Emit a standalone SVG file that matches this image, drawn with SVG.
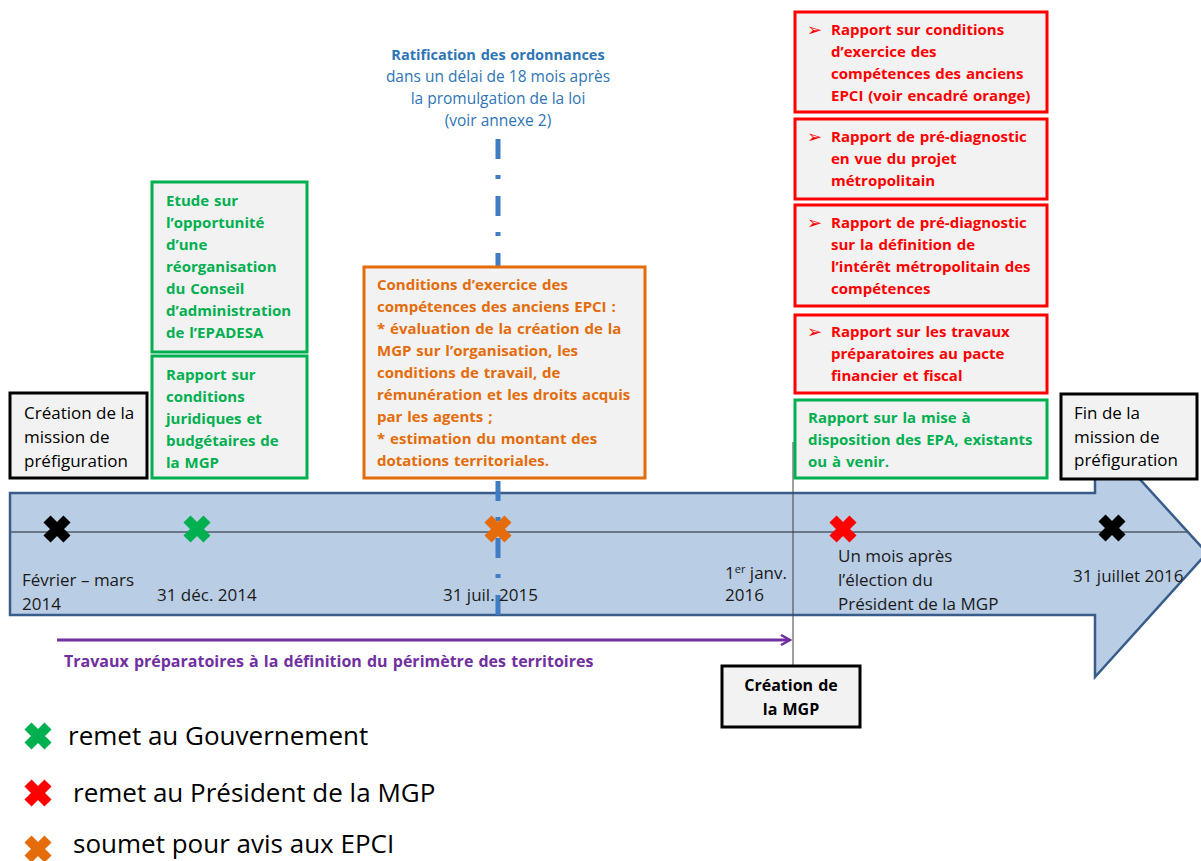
<svg xmlns="http://www.w3.org/2000/svg" width="1201" height="861" viewBox="0 0 1201 861">
<style>
  text { font-family: "Open Sans", "Liberation Sans", sans-serif; }
  .box { fill: #F2F2F2; stroke-width: 3; }
  .bk { stroke: #000000; }
  .gr { stroke: #00B050; }
  .rd { stroke: #FF0000; }
  .or { stroke: #E46C0A; }
  .b { font-weight: bold; font-size: 15px; word-spacing: 1px; }
  .tg { fill: #00B050; }
  .tr { fill: #FF0000; }
  .to { fill: #E46C0A; }
  .tb { fill: #000000; font-size: 17px; }
  .tl { fill: #1A1A1A; font-size: 17px; }
  .bul { font-family: "DejaVu Sans", sans-serif; fill: #FF0000; font-size: 18px; }
  .leg { fill: #000000; font-size: 26px; }
  .blue { fill: #2E75B6; font-size: 15.5px; }
</style>
<defs>
  <path id="cross" d="M-10,-10 L10,10 M10,-10 L-10,10" stroke-width="10" fill="none"/>
  <marker id="parrow" markerWidth="12" markerHeight="12" refX="10" refY="6" orient="auto" markerUnits="userSpaceOnUse">
    <path d="M1,1 L10,6 L1,11" fill="none" stroke="#7030A0" stroke-width="2.5"/>
  </marker>
</defs>

<g id="timeline">
  <path d="M10,493 L1095,493 L1095,430 L1207,553 L1095,677 L1095,615 L10,615 Z" fill="#B9CDE5" stroke="#385D8A" stroke-width="2.5"/>
</g>

<g id="connectors">
  <line x1="10" y1="532" x2="1188" y2="532" stroke="#505A66" stroke-width="1.5"/>
  <line x1="793" y1="442" x2="793" y2="666" stroke="#404040" stroke-width="1"/>
  <line x1="498" y1="139" x2="498" y2="625" stroke="#3F7CC4" stroke-width="5" stroke-dasharray="20 16 4 17"/>
  <line x1="57" y1="640" x2="790" y2="640" stroke="#7030A0" stroke-width="3" marker-end="url(#parrow)"/>
</g>

<g id="markers">
  <use href="#cross" x="57" y="529" stroke="#000000"/>
  <use href="#cross" x="197" y="529" stroke="#00B050"/>
  <use href="#cross" x="498" y="529" stroke="#E46C0A"/>
  <use href="#cross" x="843" y="529" stroke="#FF0000"/>
  <use href="#cross" x="1112" y="528" stroke="#000000"/>
</g>

<g id="timeline-labels">
  <text class="tl" x="22" y="586">Février – mars</text>
  <text class="tl" x="22" y="610">2014</text>
  <text class="tl" x="157" y="601">31 déc. 2014</text>
  <text class="tl" x="443" y="601">31 juil. 2015</text>
  <text class="tl" x="725" y="579">1<tspan dy="-6" font-size="11">er</tspan><tspan dy="6"> janv.</tspan></text>
  <text class="tl" x="725" y="601">2016</text>
  <text class="tl" x="838" y="562">Un mois après</text>
  <text class="tl" x="838" y="586">l’élection du</text>
  <text class="tl" x="838" y="610">Président de la MGP</text>
  <text class="tl" x="1073" y="582">31 juillet 2016</text>
</g>

<g id="ratification">
  <text class="blue b" x="498" y="60" text-anchor="middle" style="font-size:14.5px">Ratification des ordonnances</text>
  <text class="blue" x="498" y="82" text-anchor="middle">dans un délai de 18 mois après</text>
  <text class="blue" x="498" y="104" text-anchor="middle">la promulgation de la loi</text>
  <text class="blue" x="498" y="126" text-anchor="middle">(voir annexe 2)</text>
</g>

<g id="node-creation-mission">
  <rect class="box bk" x="10" y="393" width="137" height="85"/>
  <text class="tb" x="24" y="419">Création de la</text>
  <text class="tb" x="24" y="443">mission de</text>
  <text class="tb" x="24" y="467">préfiguration</text>
</g>

<g id="node-etude">
  <rect class="box gr" x="152" y="182" width="155" height="170"/>
  <text class="b tg" x="166" y="206">Etude sur</text>
  <text class="b tg" x="166" y="228">l’opportunité</text>
  <text class="b tg" x="166" y="250">d’une</text>
  <text class="b tg" x="166" y="272">réorganisation</text>
  <text class="b tg" x="166" y="294">du Conseil</text>
  <text class="b tg" x="166" y="316">d’administration</text>
  <text class="b tg" x="166" y="338">de l’EPADESA</text>
</g>

<g id="node-rapport-juridique">
  <rect class="box gr" x="152" y="356" width="155" height="122"/>
  <text class="b tg" x="166" y="380">Rapport sur</text>
  <text class="b tg" x="166" y="402">conditions</text>
  <text class="b tg" x="166" y="424">juridiques et</text>
  <text class="b tg" x="166" y="446">budgétaires de</text>
  <text class="b tg" x="166" y="468">la MGP</text>
</g>

<g id="node-conditions-epci">
  <rect class="box or" x="364" y="267" width="281" height="211"/>
  <text class="b to" x="377" y="290">Conditions d’exercice des</text>
  <text class="b to" x="377" y="312">compétences des anciens EPCI :</text>
  <text class="b to" x="377" y="334">* évaluation de la création de la</text>
  <text class="b to" x="377" y="356">MGP sur l’organisation, les</text>
  <text class="b to" x="377" y="378">conditions de travail, de</text>
  <text class="b to" x="377" y="400">rémunération et les droits acquis</text>
  <text class="b to" x="377" y="422">par les agents ;</text>
  <text class="b to" x="377" y="444">* estimation du montant des</text>
  <text class="b to" x="377" y="466">dotations territoriales.</text>
</g>

<g id="node-rapport-epci">
  <rect class="box rd" x="795" y="12" width="252" height="100"/>
  <text class="bul" x="807" y="36">➢</text>
  <text class="b tr" x="831" y="35">Rapport sur conditions</text>
  <text class="b tr" x="831" y="57">d’exercice des</text>
  <text class="b tr" x="831" y="79">compétences des anciens</text>
  <text class="b tr" x="831" y="101">EPCI (voir encadré orange)</text>
</g>

<g id="node-prediag-projet">
  <rect class="box rd" x="795" y="119" width="252" height="80"/>
  <text class="bul" x="807" y="143">➢</text>
  <text class="b tr" x="831" y="142">Rapport de pré-diagnostic</text>
  <text class="b tr" x="831" y="164">en vue du projet</text>
  <text class="b tr" x="831" y="186">métropolitain</text>
</g>

<g id="node-prediag-interet">
  <rect class="box rd" x="795" y="205" width="252" height="101"/>
  <text class="bul" x="807" y="229">➢</text>
  <text class="b tr" x="831" y="228">Rapport de pré-diagnostic</text>
  <text class="b tr" x="831" y="250">sur la définition de</text>
  <text class="b tr" x="831" y="272">l’intérêt métropolitain des</text>
  <text class="b tr" x="831" y="294">compétences</text>
</g>

<g id="node-pacte">
  <rect class="box rd" x="795" y="315" width="252" height="78"/>
  <text class="bul" x="807" y="338">➢</text>
  <text class="b tr" x="831" y="337">Rapport sur les travaux</text>
  <text class="b tr" x="831" y="359">préparatoires au pacte</text>
  <text class="b tr" x="831" y="381">financier et fiscal</text>
</g>

<g id="node-epa">
  <rect class="box gr" x="795" y="400" width="252" height="78"/>
  <text class="b tg" x="808" y="423">Rapport sur la mise à</text>
  <text class="b tg" x="808" y="445">disposition des EPA, existants</text>
  <text class="b tg" x="808" y="467">ou à venir.</text>
</g>

<g id="node-fin-mission">
  <rect class="box bk" x="1061" y="394" width="136" height="85"/>
  <text class="tb" x="1074" y="419">Fin de la</text>
  <text class="tb" x="1074" y="443">mission de</text>
  <text class="tb" x="1074" y="466">préfiguration</text>
</g>

<g id="node-creation-mgp">
  <rect class="box bk" x="722" y="666" width="138" height="61"/>
  <text class="b" x="791" y="691" text-anchor="middle" style="font-size:16px" fill="#000">Création de</text>
  <text class="b" x="791" y="715" text-anchor="middle" style="font-size:16px" fill="#000">la MGP</text>
</g>

<g id="travaux-label">
  <text class="b" x="64" y="667" style="font-size:16px" fill="#7030A0">Travaux préparatoires à la définition du périmètre des territoires</text>
</g>

<g id="legend">
  <use href="#cross" x="38" y="736" stroke="#00B050"/>
  <text class="leg" x="68" y="745">remet au Gouvernement</text>
  <use href="#cross" x="38" y="793" stroke="#FF0000"/>
  <text class="leg" x="73" y="802">remet au Président de la MGP</text>
  <use href="#cross" x="38" y="849" stroke="#E46C0A"/>
  <text class="leg" x="73" y="853">soumet pour avis aux EPCI</text>
</g>
</svg>
